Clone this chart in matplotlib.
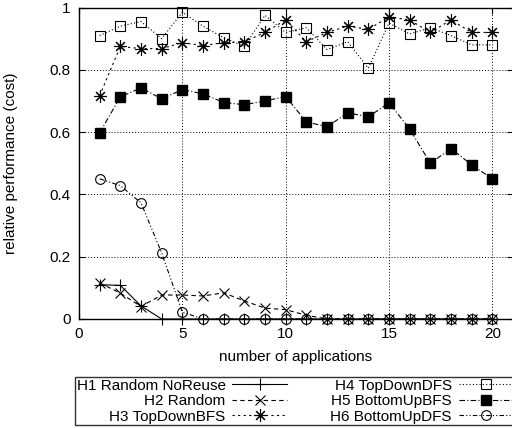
import matplotlib
matplotlib.use("Agg")
import matplotlib.pyplot as plt

plt.rcParams['font.family'] = ['Liberation Sans', 'DejaVu Sans']
plt.rcParams['font.size'] = 11

apps = list(range(1, 21))

h1 = [0.11, 0.108, 0.042, 0, 0, 0, 0, 0, 0, 0,
      0, 0, 0, 0, 0, 0, 0, 0, 0, 0]
h2 = [0.116, 0.083, 0.04, 0.077, 0.077, 0.074, 0.084, 0.058, 0.035, 0.03,
      0.012, 0, 0, 0, 0, 0, 0, 0, 0, 0]
h3 = [0.717, 0.875, 0.868, 0.868, 0.887, 0.878, 0.887, 0.89, 0.92, 0.96,
      0.89, 0.92, 0.94, 0.93, 0.97, 0.96, 0.92, 0.96, 0.92, 0.92]
h4 = [0.91, 0.94, 0.955, 0.90, 0.985, 0.94, 0.903, 0.875, 0.975, 0.92,
      0.935, 0.865, 0.89, 0.805, 0.95, 0.915, 0.935, 0.91, 0.88, 0.88]
h5 = [0.598, 0.713, 0.742, 0.707, 0.736, 0.723, 0.695, 0.688, 0.70, 0.714,
      0.633, 0.617, 0.662, 0.649, 0.694, 0.61, 0.50, 0.547, 0.495, 0.45]
h6 = [0.45, 0.428, 0.373, 0.212, 0.022, 0, 0, 0, 0, 0,
      0, 0, 0, 0, 0, 0, 0, 0, 0, 0]

labels = ['H1 Random NoReuse', 'H2 Random', 'H3 TopDownBFS',
          'H4 TopDownDFS', 'H5 BottomUpBFS', 'H6 BottomUpDFS']

fig = plt.figure(figsize=(5.12, 4.28), dpi=100)
ax = fig.add_axes([79 / 512, 109 / 428, 434 / 512, 311.5 / 428])

common = dict(color='black', lw=0.8, clip_on=False)
ax.plot(apps, h1, ls='-', marker='+', ms=9, mew=0.8, label=labels[0], **common)
ax.plot(apps, h2, ls=(0, (4, 3)), marker='x', ms=7, mew=0.8, label=labels[1], **common)
ax.plot(apps, h3, ls=(0, (2, 3)), marker=(8, 2, 0), ms=9, mew=0.8, label=labels[2], **common)
ax.plot(apps, h4, ls=(0, (1, 2)), marker='s', ms=6.5, mew=0.8, mfc='none',
        label=labels[3], **common)
ax.plot(apps, h5, ls=(0, (5, 2, 1, 2)), marker='s', ms=7, mfc='black',
        label=labels[4], **common)
ax.plot(apps, h6, ls=(0, (4, 2, 1, 2, 1, 2)), marker='o', ms=7, mew=0.8, mfc='none',
        label=labels[5], **common)

ax.set_xlim(0, 21)
ax.set_ylim(0, 1)
ax.set_xticks([0, 5, 10, 15, 20])
ax.set_yticks([0, 0.2, 0.4, 0.6, 0.8, 1])
ax.set_yticklabels(['0', '0.2', '0.4', '0.6', '0.8', '1'])
ax.tick_params(direction='in', top=True, right=True, length=4, width=0.8, pad=6)
ax.grid(True, color='black', ls=(0, (1, 2)), lw=0.7)
for s in ax.spines.values():
    s.set_linewidth(1.0)

ax.set_xlabel('number of applications', labelpad=6)
ax.set_ylabel('relative performance (cost)')
ax.yaxis.set_label_coords(-0.14, 0.5)

leg = fig.legend(loc='upper left', bbox_to_anchor=(75 / 512, 1 - 377 / 428),
                 ncol=2, markerfirst=False, frameon=True, fancybox=False,
                 borderaxespad=0, borderpad=0.1, labelspacing=0.1,
                 handlelength=3.6, handletextpad=0.45, columnspacing=2.8,
                 fontsize=11)
leg.get_frame().set_edgecolor('black')
leg.get_frame().set_linewidth(1.0)

fig.savefig('out.png', dpi=100)
